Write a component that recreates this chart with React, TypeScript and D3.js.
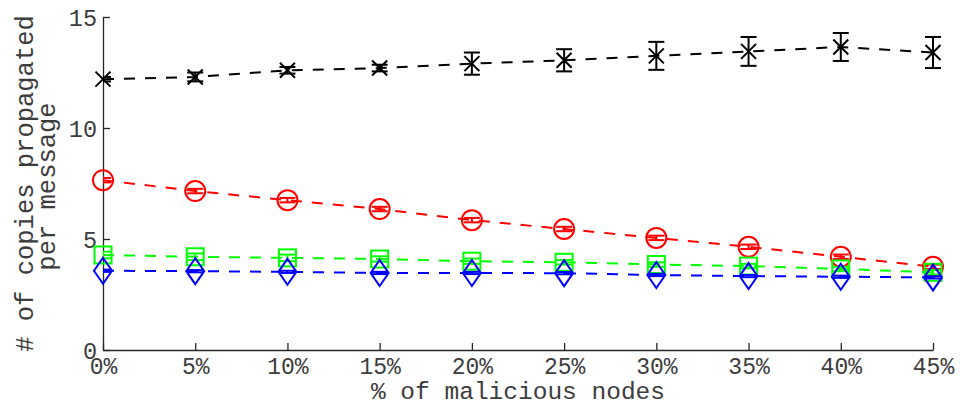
import React, { useEffect, useRef } from 'react';
import * as d3 from 'd3';

const malicious = [0, 5, 10, 15, 20, 25, 30, 35, 40, 45];
const xTickLabels = ['0%', '5%', '10%', '15%', '20%', '25%', '30%', '35%', '40%', '45%'];
const yTicks = [0, 5, 10, 15];

// mean copies per message and error half-widths, one array per curve
const blackMean = [12.2, 12.3, 12.6, 12.7, 12.9, 13.05, 13.25, 13.45, 13.65, 13.4];
const blackErr = [0.1, 0.2, 0.15, 0.15, 0.5, 0.5, 0.63, 0.65, 0.63, 0.7];
const redMean = [7.65, 7.16, 6.75, 6.35, 5.85, 5.45, 5.05, 4.65, 4.2, 3.75];
const redErr = [0.1, 0.1, 0.1, 0.1, 0.1, 0.1, 0.1, 0.1, 0.1, 0.1];
const greenMean = [4.28, 4.2, 4.15, 4.1, 4.0, 3.95, 3.85, 3.78, 3.65, 3.5];
const greenErr = [0.15, 0.15, 0.15, 0.12, 0.12, 0.1, 0.1, 0.1, 0.1, 0.1];
const blueMean = [3.57, 3.55, 3.52, 3.47, 3.47, 3.46, 3.38, 3.33, 3.3, 3.27];
const blueErr = [0.05, 0.05, 0.05, 0.05, 0.05, 0.05, 0.05, 0.05, 0.05, 0.05];

const series = [
  { name: 'black', color: '#000000', marker: 'x', mean: blackMean, err: blackErr },
  { name: 'red', color: '#ff0000', marker: 'circle', mean: redMean, err: redErr },
  { name: 'green', color: '#00ff00', marker: 'square', mean: greenMean, err: greenErr },
  { name: 'blue', color: '#0000ff', marker: 'diamond', mean: blueMean, err: blueErr },
];

const W = 960;
const H = 406;
const FONT = '"Liberation Mono", "Courier New", monospace';
const AXIS = '#262626';
const TEXT = '#3c3c3c';

const App = () => {
  const ref = useRef<SVGSVGElement>(null);

  useEffect(() => {
    if (!ref.current) return;
    const svg = d3.select(ref.current);
    svg.selectAll('*').remove();

    const margin = { top: 17, right: 27, bottom: 56, left: 103 };
    const cw = W - margin.left - margin.right;
    const ch = H - margin.top - margin.bottom;

    const x = d3.scaleLinear().domain([0, 45]).range([0, cw]);
    const y = d3.scaleLinear().domain([0, 15]).range([ch, 0]);

    svg.append('defs').append('clipPath').attr('id', 'plotclip')
      .append('rect').attr('x', 0).attr('y', -5).attr('width', cw + 30).attr('height', ch + 5);

    const g = svg.append('g').attr('transform', `translate(${margin.left},${margin.top})`);

    // x axis, ticks point inward
    const xAxis = g.append('g').attr('transform', `translate(0,${ch})`)
      .call(d3.axisBottom(x).tickValues(malicious).tickSizeInner(-7).tickSizeOuter(0)
        .tickFormat((d, i) => xTickLabels[i]));
    xAxis.select('.domain').attr('stroke', AXIS).attr('stroke-width', 1.3);
    xAxis.selectAll('.tick line').attr('stroke', AXIS).attr('stroke-width', 1.3);
    xAxis.selectAll('text').attr('y', 24).attr('dy', 0)
      .style('font-family', FONT).style('font-size', '23px').attr('fill', TEXT);

    // y axis
    const yAxis = g.append('g')
      .call(d3.axisLeft(y).tickValues(yTicks).tickSizeInner(-7).tickSizeOuter(0));
    yAxis.select('.domain').attr('stroke', AXIS).attr('stroke-width', 1.3);
    yAxis.selectAll('.tick line').attr('stroke', AXIS).attr('stroke-width', 1.3);
    yAxis.selectAll('text').attr('x', -6).attr('dy', '0.35em')
      .style('font-family', FONT).style('font-size', '23.5px').attr('fill', TEXT);

    // axis titles
    svg.append('text')
      .attr('x', margin.left + cw / 2).attr('y', 398.5)
      .attr('text-anchor', 'middle')
      .style('font-family', FONT).style('font-size', '24.5px').attr('fill', TEXT)
      .text('% of malicious nodes');

    const yMid = margin.top + ch / 2;
    const ylab = svg.append('text')
      .attr('transform', `translate(33,${yMid}) rotate(-90)`)
      .attr('text-anchor', 'middle')
      .style('font-family', FONT).style('font-size', '25.5px').attr('fill', TEXT);
    ylab.append('tspan').attr('x', 0).attr('y', 0).text('# of copies propagated');
    ylab.append('tspan').attr('x', -3).attr('y', 22).text('per message');

    const line = d3.line<number>()
      .x((d, i) => x(malicious[i]))
      .y(d => y(d));

    series.forEach(s => {
      const sg = g.append('g');

      sg.append('path')
        .datum(s.mean)
        .attr('fill', 'none')
        .attr('stroke', s.color)
        .attr('stroke-width', 2)
        .attr('stroke-dasharray', '11,10')
        .attr('d', line);

      // error bars (clipped at the left axis like the original)
      const eb = sg.append('g').attr('clip-path', 'url(#plotclip)')
        .attr('stroke', s.color).attr('stroke-width', 2);
      s.mean.forEach((m, i) => {
        const cx = x(malicious[i]);
        const lo = y(m - s.err[i]);
        const hi = y(m + s.err[i]);
        eb.append('line').attr('x1', cx).attr('x2', cx).attr('y1', lo).attr('y2', hi);
        eb.append('line').attr('x1', cx - 8).attr('x2', cx + 8).attr('y1', lo).attr('y2', lo);
        eb.append('line').attr('x1', cx - 8).attr('x2', cx + 8).attr('y1', hi).attr('y2', hi);
      });

      // markers
      const mk = sg.append('g').attr('fill', 'none').attr('stroke', s.color).attr('stroke-width', 2);
      s.mean.forEach((m, i) => {
        const cx = x(malicious[i]);
        const cy = y(m);
        if (s.marker === 'circle') {
          mk.append('circle').attr('cx', cx).attr('cy', cy).attr('r', 10);
        } else if (s.marker === 'square') {
          mk.append('rect').attr('x', cx - 8.5).attr('y', cy - 8.5).attr('width', 17).attr('height', 17);
        } else if (s.marker === 'diamond') {
          mk.append('path').attr('d', `M${cx},${cy - 13}L${cx + 9},${cy}L${cx},${cy + 13}L${cx - 9},${cy}Z`);
        } else {
          const r = 7.5;
          mk.append('path').attr('d', `M${cx - r},${cy - r}L${cx + r},${cy + r}M${cx - r},${cy + r}L${cx + r},${cy - r}`);
        }
      });
    });
  }, []);

  return (
    <svg ref={ref} width={W} height={H}
      style={{ position: 'absolute', left: 0, top: 0, background: '#ffffff' }} />
  );
};

export default App;
